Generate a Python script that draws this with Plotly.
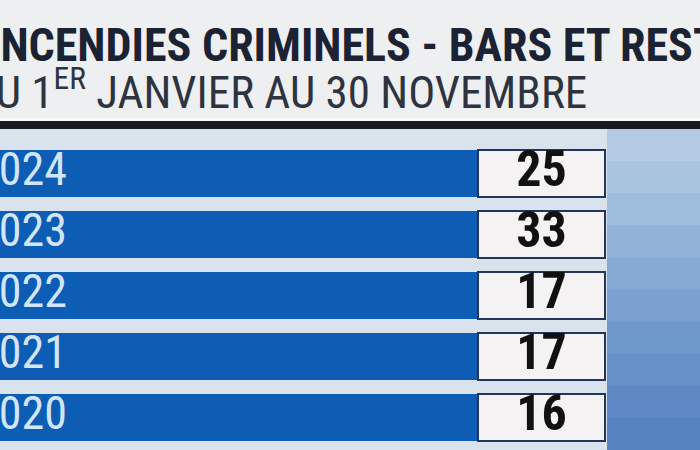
import plotly.graph_objects as go

# ---- data ----
years = ["2024", "2023", "2022", "2021", "2020"]
values = [25, 33, 17, 17, 16]
title_line1 = "INCENDIES CRIMINELS - BARS ET RESTAURANTS"
title_line2 = "DU 1<sup>ER</sup> JANVIER AU 30 NOVEMBRE"

# ---- layout constants ----
W, H = 700, 450
PANEL_START = -20
PANEL_END = 478
BOX_END = 605
YEAR_TEXT_END = 67
ROW_TOP_CENTER = 173.5
ROW_STEP = 61.0
BAR_W = 0.77
COND = "Roboto Condensed, Open Sans, DejaVu Sans Condensed, sans-serif"

n = len(years)
fig = go.Figure()

# blue panels
fig.add_trace(go.Bar(
    y=years, x=[PANEL_END - PANEL_START] * n, base=PANEL_START, orientation="h",
    marker=dict(color="#0c5db3", line=dict(width=0)), width=BAR_W,
    hoverinfo="skip", showlegend=False))
# value boxes
fig.add_trace(go.Bar(
    y=years, x=[BOX_END - PANEL_END] * n, base=PANEL_END, orientation="h",
    marker=dict(color="#f4f2f2", line=dict(color="#22365a", width=2)), width=BAR_W,
    hoverinfo="skip", showlegend=False))
# year labels (run off the left edge, as in the cropped reference)
fig.add_trace(go.Scatter(
    y=years, x=[YEAR_TEXT_END] * n, mode="text", text=years,
    textposition="middle left",
    textfont=dict(family=COND, size=46, color="#d3e5f8"),
    hoverinfo="skip", showlegend=False, cliponaxis=False))
# values
fig.add_trace(go.Scatter(
    y=years, x=[(PANEL_END + BOX_END) / 2] * n, mode="text",
    text=[str(v) for v in values], textposition="middle center",
    textfont=dict(family=COND, size=50, color="#111111", weight="bold"),
    hoverinfo="skip", showlegend=False, cliponaxis=False))

rng_top = -ROW_TOP_CENTER / ROW_STEP
rng_bot = (H - ROW_TOP_CENTER) / ROW_STEP

shapes = []
# header
shapes.append(dict(type="rect", xref="paper", yref="paper", x0=0, x1=1,
                   y0=1 - 118 / H, y1=1, fillcolor="#eeeff0", line=dict(width=0), layer="below"))
shapes.append(dict(type="rect", xref="paper", yref="paper", x0=0, x1=1,
                   y0=1 - 121 / H, y1=1 - 118 / H, fillcolor="#fafafa", line=dict(width=0), layer="below"))
shapes.append(dict(type="rect", xref="paper", yref="paper", x0=0, x1=1,
                   y0=1 - 129 / H, y1=1 - 121 / H, fillcolor="#16191d", line=dict(width=0), layer="below"))
# right panel gradient (stepped)
grad = ["#b3cbe2", "#a9c4df", "#9ebcdb", "#92b3d7", "#86aad3", "#7aa1cf",
        "#6f98cb", "#6690c7", "#5e89c4", "#5783c1"]
top = 129
step = (H - top) / len(grad)
for i, c in enumerate(grad):
    y0 = top + i * step
    shapes.append(dict(type="rect", xref="paper", yref="paper",
                       x0=(BOX_END + 2) / W, x1=1,
                       y0=1 - (y0 + step + 1) / H, y1=1 - y0 / H,
                       fillcolor=c, line=dict(width=0), layer="below"))

annotations = [
    dict(xref="paper", yref="paper", x=-14 / W, y=1 - 45 / H, xanchor="left", yanchor="middle",
         text="<b>" + title_line1 + "</b>", showarrow=False,
         font=dict(family=COND, size=46, color="#1b2233")),
    dict(xref="paper", yref="paper", x=-32 / W, y=1 - 89 / H, xanchor="left", yanchor="middle",
         text=title_line2, showarrow=False,
         font=dict(family=COND, size=45, color="#2e3340")),
]

fig.update_layout(
    width=W, height=H,
    margin=dict(l=0, r=0, t=0, b=0),
    paper_bgcolor="#d9e3ed", plot_bgcolor="rgba(0,0,0,0)",
    barmode="overlay",
    xaxis=dict(range=[0, W], visible=False, fixedrange=True),
    yaxis=dict(type="category", categoryarray=years, range=[rng_bot, rng_top],
               visible=False, fixedrange=True),
    shapes=shapes,
    annotations=annotations,
)

fig.write_html("out.html", post_script="document.body.style.margin='0';",
               config={"displayModeBar": False})
